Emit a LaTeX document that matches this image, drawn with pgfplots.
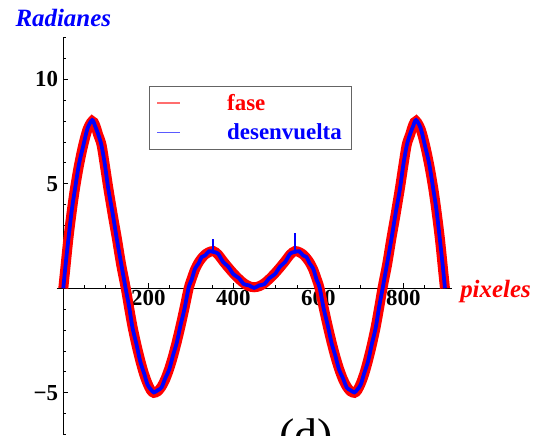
\documentclass[border=0pt]{standalone}
\usepackage{fontspec}
\setmainfont{Liberation Serif}
\usepackage{pgfplots}
\pgfplotsset{compat=1.18}
\usepackage{pgfplotstable}
\definecolor{lred}{RGB}{255,110,110}
\definecolor{lblue}{RGB}{90,90,255}
\definecolor{lgray}{RGB}{100,100,100}

\pgfplotstableread{
x y
0 0
5 1.0
12 2.39
20 3.7
27.5 4.78
37 5.9
47 6.86
57 7.6
68 8.0
75 7.8
82 7.35
90 6.86
98 5.85
106 4.78
116 3.55
126 2.39
136 1.15
147 0
155 -0.95
163 -1.85
172 -2.7
181 -3.45
190 -4.1
198 -4.55
206 -4.88
213 -5.0
222 -4.93
231 -4.71
240 -4.35
249 -3.86
258 -3.26
267 -2.56
276 -1.79
285 -0.96
295 0
302 0.45
310 0.9
318 1.22
326 1.45
334 1.62
343 1.73
353 1.78
364 1.62
376 1.3
388 1.0
400 0.72
413 0.45
425 0.24
437 0.1
449 0.05
461 0.1
473 0.24
485 0.45
498 0.72
510 1.0
522 1.3
534 1.62
545 1.78
555 1.73
564 1.62
572 1.45
580 1.22
588 0.9
596 0.45
603 0
613 -0.96
622 -1.79
631 -2.56
640 -3.26
649 -3.86
658 -4.35
667 -4.71
676 -4.93
685 -5.0
692 -4.88
700 -4.55
708 -4.1
717 -3.45
726 -2.7
735 -1.85
743 -0.95
751 0
762 1.15
772 2.39
782 3.55
792 4.78
800 5.85
808 6.86
816 7.35
823 7.8
830 8.0
841 7.6
851 6.86
861 5.9
870.5 4.78
878 3.7
886 2.39
893 1.0
898 0
}\fase

\pgfplotstableread{
x y
0 0
5 1.05
12 2.35
20 3.75
27.5 4.75
37 5.95
47 6.82
57 7.65
68 8.05
75 7.75
82 7.38
90 6.82
98 5.9
106 4.74
116 3.6
126 2.35
136 1.2
147 -0.04
155 -0.9
163 -1.9
172 -2.66
181 -3.5
190 -4.06
198 -4.6
206 -4.84
213 -4.98
222 -4.88
231 -4.75
240 -4.3
249 -3.9
258 -3.22
267 -2.6
276 -1.75
285 -1.0
295 0.04
302 0.41
310 0.94
318 1.18
326 1.5
334 1.58
343 1.77
353 1.74
364 1.66
376 1.26
388 1.04
400 0.68
413 0.49
425 0.2
437 0.14
449 0.02
461 0.14
473 0.2
485 0.49
498 0.68
510 1.04
522 1.26
534 1.66
545 1.74
555 1.77
564 1.58
572 1.5
580 1.18
588 0.94
596 0.41
603 0.04
613 -1.0
622 -1.75
631 -2.6
640 -3.22
649 -3.9
658 -4.3
667 -4.75
676 -4.88
685 -4.98
692 -4.84
700 -4.6
708 -4.06
717 -3.5
726 -2.66
735 -1.9
743 -0.9
751 -0.04
762 1.2
772 2.35
782 3.6
792 4.74
800 5.9
808 6.82
816 7.38
823 7.75
830 8.05
841 7.65
851 6.82
861 5.95
870.5 4.75
878 3.75
886 2.35
893 1.05
898 0
}\desen

\begin{document}
\begin{tikzpicture}
\begin{axis}[
  x=0.425bp, y=20.9bp,
  xmin=-15.5, xmax=914, ymin=-7, ymax=12,
  axis lines=middle,
  axis line style={black, line width=1.1bp, -},
  xtick={200,400,600,800}, xticklabels={200,400,600,800},
  ytick={-5,5,10}, yticklabels={−5,5,10},
  minor xtick={50,100,...,900},
  minor ytick={-7,-6,...,12},
  tick align=inside,
  major tick length=5bp, minor tick length=3bp,
  tick style={black, line width=0.9bp},
  tick label style={font=\fontsize{23}{23}\selectfont\bfseries},
  xticklabel style={inner sep=2bp},
  yticklabel style={inner sep=5bp},
  clip=false,
  legend cell align=left,
  legend image code/.code={\draw[#1] (0bp,0bp) -- (23bp,0bp); \path[draw=none] (0bp,0bp) -- (67bp,0bp);},
  legend style={at={(axis cs:202,9.69)}, anchor=north west, draw=lgray, line width=0.9bp, fill=white,
    font=\fontsize{23}{23}\selectfont\bfseries, inner xsep=7bp, inner ysep=3bp, row sep=2bp,
    nodes={inner xsep=3bp, inner ysep=5bp}},
]
\addplot[red, line width=10bp, smooth, forget plot] table {\fase};
\addplot[blue, line width=3.8bp, smooth, forget plot] table {\desen};
\addplot[blue, line width=1.8bp, forget plot] coordinates {(353,1.7) (353,2.35)};
\addplot[blue, line width=1.8bp, forget plot] coordinates {(545,1.7) (545,2.65)};
\addlegendimage{lred, line width=1.2bp}
\addlegendentry{\textcolor{red}{fase}}
\addlegendimage{lblue, line width=1.2bp}
\addlegendentry{\textcolor{blue}{desenvuelta}}
\coordinate (O) at (axis cs:0,0);
\node[anchor=base, text=blue, font=\fontsize{25}{25}\selectfont\bfseries\itshape, yshift=11bp] at (axis cs:0,12) {Radianes};
\node[anchor=base west, text=red, font=\fontsize{25}{25}\selectfont\bfseries\itshape, xshift=5bp, yshift=-9bp] at (axis cs:914,0) {pixeles};
\node[anchor=north, inner sep=0pt, font=\fontsize{46}{46}\selectfont] at (axis cs:571,-6.25) {(d)};
\end{axis}
\pgfresetboundingbox
\path[use as bounding box] ([shift={(-63.3bp,-147.7bp)}]O) rectangle ([shift={(475.7bp,288.3bp)}]O);
\end{tikzpicture}
\end{document}
